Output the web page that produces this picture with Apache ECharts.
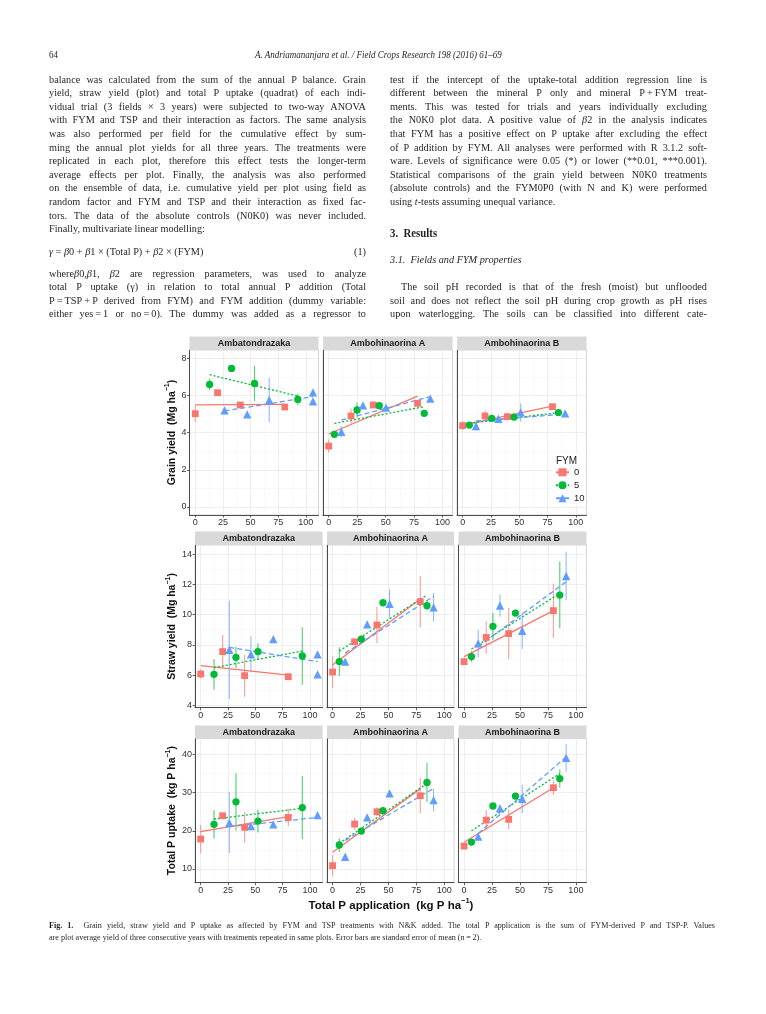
<!DOCTYPE html>
<html><head><meta charset="utf-8">
<script src="https://cdn.jsdelivr.net/npm/echarts@6/dist/echarts.min.js"></script>
<style>
html,body{margin:0;padding:0;background:#fff;}
#page{position:relative;width:766px;height:1014px;overflow:hidden;background:#fff;}
#chart{position:absolute;left:0;top:0;width:766px;height:1014px;}
.t{position:absolute;white-space:nowrap;font-family:'Liberation Serif','Times New Roman',serif;color:#231f20;line-height:13px;transform-origin:0 0;}
</style></head>
<body><div id="page"><div id="chart"></div><div id="text"></div></div>
<script>
// ---------------- DATA ----------------
const fields = ['Ambatondrazaka', 'Ambohinaorina A', 'Ambohinaorina B'];
const fymLevels = ['0', '5', '10'];
const xTicks = [0, 25, 50, 75, 100];
const xMinorTicks = [12.5, 37.5, 62.5, 87.5];
const grainTicks = [0, 2, 4, 6, 8];
const grainMinorTicks = [1, 3, 5, 7];
const strawTicks = [4, 6, 8, 10, 12, 14];
const strawMinorTicks = [5, 7, 9, 11, 13];
const uptakeTicks = [10, 20, 30, 40];
const uptakeMinorTicks = [15, 25, 35];

// points: [fieldIndex, total P application, mean, standard error]
const grainFYM0 = [
  [0, 0, 5.02, 0.45], [0, 20.2, 6.15, 0.1], [0, 40.7, 5.49, 0.1], [0, 81, 5.38, 0.15],
  [1, 0, 3.28, 0.35], [1, 19.6, 4.9, 0.4], [1, 39.2, 5.49, 0.05], [1, 78, 5.58, 0.15],
  [2, 0, 4.38, 0.25], [2, 19.8, 4.9, 0.3], [2, 39.5, 4.86, 0.1], [2, 79.4, 5.4, 0.1]
];
const grainFYM5 = [
  [0, 13, 6.6, 0.3], [0, 32.8, 7.46, 0.05], [0, 53.6, 6.65, 0.95], [0, 92.8, 5.79, 0.3],
  [1, 5, 3.91, 0.1], [1, 24.9, 5.22, 0.4], [1, 44.4, 5.45, 0.05], [1, 83.9, 5.04, 0.1],
  [2, 5.9, 4.41, 0.1], [2, 25.7, 4.77, 0.1], [2, 45.4, 4.84, 0.1], [2, 84.7, 5.08, 0.05]
];
const grainFYM10 = [
  [0, 26.5, 5.2, 0.05], [0, 47, 4.99, 0.05], [0, 66.9, 5.76, 1.2], [0, 106.5, 6.17, 0.05], [0, 106.5, 5.69, 0.05],
  [1, 11.1, 4.05, 0.3], [1, 30.1, 5.47, 0.1], [1, 50.3, 5.35, 0.1], [1, 89.2, 5.83, 0.1],
  [2, 11.8, 4.36, 0.25], [2, 31.6, 4.75, 0.1], [2, 51.3, 5.09, 0.5], [2, 90.6, 5.04, 0.05]
];
const strawFYM0 = [
  [0, 0, 6.07, 0.3], [0, 20.1, 7.55, 1.1], [0, 40.2, 5.96, 1.4], [0, 80.2, 5.89, 0.2],
  [1, 0, 6.2, 1.05], [1, 19.7, 8.2, 0.1], [1, 39.7, 9.31, 1.2], [1, 78.5, 10.85, 1.7],
  [2, 0, 6.89, 0.1], [2, 19.8, 8.49, 1.07], [2, 39.9, 8.74, 1.7], [2, 79.9, 10.26, 1.8]
];
const strawFYM5 = [
  [0, 12.2, 6.05, 1.0], [0, 32.3, 7.17, 0.7], [0, 52.4, 7.55, 0.55], [0, 93, 7.26, 1.9],
  [1, 6, 6.89, 0.95], [1, 25.7, 8.38, 0.1], [1, 45.1, 10.78, 0.05], [1, 84.5, 10.59, 0.3],
  [2, 6.6, 7.22, 0.35], [2, 25.8, 9.22, 0.9], [2, 45.9, 10.1, 0.05], [2, 85.6, 11.29, 2.2]
];
const strawFYM10 = [
  [0, 26.2, 7.66, 3.25], [0, 46, 7.37, 1.2], [0, 66.5, 8.38, 0.05], [0, 107, 7.37, 0.05], [0, 107, 6.05, 0.05],
  [1, 11.3, 6.89, 0.05], [1, 31, 9.35, 0.05], [1, 51, 10.7, 0.95], [1, 90.4, 10.48, 0.95],
  [2, 12.6, 8.1, 0.9], [2, 32.1, 10.59, 0.73], [2, 52, 8.93, 1.2], [2, 91.3, 12.55, 1.6]
];
const uptakeFYM0 = [
  [0, 0, 17.85, 3.75], [0, 20.1, 23.95, 0.7], [0, 40.2, 20.9, 4], [0, 80.2, 23.5, 2.3],
  [1, 0, 10.87, 2.8], [1, 19.7, 21.77, 1.5], [1, 39.7, 25, 1.2], [1, 78.5, 29.2, 4.6],
  [2, 0, 16, 0.5], [2, 19.8, 22.8, 2.6], [2, 39.9, 23, 2.6], [2, 79.9, 31.3, 1.9]
];
const uptakeFYM5 = [
  [0, 12.2, 21.7, 3.7], [0, 32.3, 27.6, 7.5], [0, 52.4, 22.55, 3], [0, 93, 26.1, 8.3],
  [1, 6, 16.28, 1.8], [1, 25.7, 19.94, 0.3], [1, 45.1, 25.26, 0.3], [1, 84.5, 32.67, 5.2],
  [2, 6.6, 17.06, 0.3], [2, 25.8, 26.5, 0.3], [2, 45.9, 29.1, 0.3], [2, 85.6, 33.7, 2.4]
];
const uptakeFYM10 = [
  [0, 26.2, 22.1, 8], [0, 46, 21.25, 0.3], [0, 66.5, 21.7, 0.3], [0, 107, 24.1, 0.3],
  [1, 11.3, 13.2, 0.3], [1, 31, 23.5, 0.3], [1, 51, 29.8, 0.3], [1, 90.4, 28.05, 2.9],
  [2, 12.6, 18.46, 0.3], [2, 32.1, 25.9, 0.3], [2, 52, 28.4, 3.7], [2, 91.3, 39.1, 3.6]
];

// regression lines: [fieldIndex, x start, y start, x end, y end]
const grainFitFYM0 = [[0, 0, 5.5, 81, 5.52], [1, 0, 3.93, 78, 5.97], [2, 0, 4.41, 79.4, 5.43]];
const grainFitFYM5 = [[0, 13, 7.12, 92.8, 5.97], [1, 5, 4.5, 83.9, 5.4], [2, 5.9, 4.5, 84.7, 5.08]];
const grainFitFYM10 = [[0, 26.5, 5.17, 106.5, 5.94], [1, 11.1, 4.68, 89.2, 5.94], [2, 11.8, 4.63, 90.6, 5.0]];
const strawFitFYM0 = [[0, 0, 6.62, 80.2, 6.0], [1, 0, 6.67, 78.5, 11.03], [2, 0, 7.22, 79.9, 10.26]];
const strawFitFYM5 = [[0, 12.2, 6.49, 93, 7.59], [1, 6, 7.59, 84.5, 11.29], [2, 6.6, 7.72, 85.6, 11.4]];
const strawFitFYM10 = [[0, 26.2, 7.83, 107, 6.89], [1, 11.3, 7.45, 90.4, 11.2], [2, 12.6, 7.88, 91.3, 12.17]];
const uptakeFitFYM0 = [[0, 0, 19.76, 80.2, 23.7], [1, 0, 14.4, 78.5, 31.0], [2, 0, 17, 79.9, 31.3]];
const uptakeFitFYM5 = [[0, 12.2, 23.1, 93, 25.9], [1, 6, 16.7, 84.5, 32.4], [2, 6.6, 20, 85.6, 35]];
const uptakeFitFYM10 = [[0, 26.2, 21.07, 107, 23.5], [1, 11.3, 17.5, 90.4, 31.1], [2, 12.6, 19.3, 91.3, 39.4]];

// ---------------- LAYOUT / STYLE ----------------
const FONT = '"Liberation Sans", Arial, sans-serif';
const COLORS = ['#F8766D', '#00BA38', '#619CFF'];
const SYMBOLS = ['rect', 'circle', 'triangle'];
const SYMSIZE = [6.8, 7.3, 8.3];
const DASHES = ['solid', [2, 2], [5, 3]];

const rowsMeta = [
  { pts: [grainFYM0, grainFYM5, grainFYM10], fits: [grainFitFYM0, grainFitFYM5, grainFitFYM10],
    ticks: grainTicks, minor: grainMinorTicks, yRange: [-0.43, 8.45], title: 'Grain yield  (Mg ha',
    top: 350, height: 165, lefts: [189.5, 323, 457], widths: [129, 129.5, 129.5], stripH: 13.5, nameGap: 12 },
  { pts: [strawFYM0, strawFYM5, strawFYM10], fits: [strawFitFYM0, strawFitFYM5, strawFitFYM10],
    ticks: strawTicks, minor: strawMinorTicks, yRange: [3.84, 14.6], title: 'Straw yield  (Mg ha',
    top: 545, height: 162.7, lefts: [195, 327, 458.5], widths: [127.5, 127, 128], stripH: 13.5, nameGap: 15.5 },
  { pts: [uptakeFYM0, uptakeFYM5, uptakeFYM10], fits: [uptakeFitFYM0, uptakeFitFYM5, uptakeFitFYM10],
    ticks: uptakeTicks, minor: uptakeMinorTicks, yRange: [6.4, 44.2], title: 'Total P uptake  (kg P ha',
    top: 738.5, height: 144.2, lefts: [195, 327, 458.5], widths: [127.5, 127, 128], stripH: 13, nameGap: 15.5 }
];
const xRanges = [[-5.2, 111.5], [-5, 108.7], [-5, 109.5]];

const grids = [], xAxes = [], yAxes = [], graphics = [];
const fitSeries = [], errSeries = [], ptSeries = [];
const N = 9;

rowsMeta.forEach((row, r) => {
  for (let c = 0; c < 3; c++) {
    grids.push({ left: row.lefts[c], top: row.top, width: row.widths[c], height: row.height,
      show: true, borderColor: '#c4c4c4', borderWidth: 0.7, backgroundColor: 'transparent',
      containLabel: false, outerBoundsMode: 'none' });
  }
});
rowsMeta.forEach((row, r) => {
  for (let c = 0; c < 3; c++) {
    const g = r * 3 + c;
    xAxes[g] = { type: 'value', gridIndex: g, min: xRanges[c][0], max: xRanges[c][1], position: 'bottom',
      axisLine: { show: true, onZero: false, lineStyle: { color: '#3a3a3a', width: 0.9 } },
      axisTick: { show: true, customValues: xTicks, length: 2.5, lineStyle: { color: '#3a3a3a', width: 0.8 } },
      axisLabel: { show: true, customValues: xTicks, color: '#333', fontSize: 9, fontFamily: FONT, margin: 3 },
      splitLine: { show: true, lineStyle: { color: '#e6e6e6', width: 0.7 } } };
    xAxes[N + g] = { type: 'value', gridIndex: g, min: xRanges[c][0], max: xRanges[c][1], position: 'top',
      axisLine: { show: false, onZero: false }, axisTick: { show: false, customValues: xMinorTicks },
      axisLabel: { show: false, customValues: xMinorTicks },
      splitLine: { show: true, lineStyle: { color: '#f2f2f2', width: 0.5 } } };
    const yMain = { type: 'value', gridIndex: g, min: row.yRange[0], max: row.yRange[1], position: 'left',
      axisLine: { show: true, onZero: false, lineStyle: { color: '#3a3a3a', width: 0.9 } },
      axisTick: { show: c === 0, customValues: row.ticks, length: 2.5, lineStyle: { color: '#3a3a3a', width: 0.8 } },
      axisLabel: { show: c === 0, customValues: row.ticks, color: '#333', fontSize: 9, fontFamily: FONT, margin: 3 },
      splitLine: { show: true, lineStyle: { color: '#e6e6e6', width: 0.7 } } };
    if (c === 0) {
      yMain.name = '{t|' + row.title + '}{s|\u22121}{t|)}';
      yMain.nameLocation = 'middle';
      yMain.nameRotate = 90;
      yMain.nameGap = row.nameGap;
      yMain.nameTextStyle = { rich: {
        t: { fontSize: 10.5, fontWeight: 'bold', fontFamily: FONT, color: '#111', lineHeight: 14, verticalAlign: 'bottom' },
        s: { fontSize: 7, fontWeight: 'bold', fontFamily: FONT, color: '#111', lineHeight: 8, verticalAlign: 'top' } } };
    }
    yAxes[g] = yMain;
    yAxes[N + g] = { type: 'value', gridIndex: g, min: row.yRange[0], max: row.yRange[1], position: 'right',
      axisLine: { show: false, onZero: false }, axisTick: { show: false, customValues: row.minor },
      axisLabel: { show: false, customValues: row.minor },
      splitLine: { show: true, lineStyle: { color: '#f2f2f2', width: 0.5 } } };

    // facet strip
    graphics.push({ type: 'rect', silent: true, z: 1,
      shape: { x: row.lefts[c], y: row.top - row.stripH, width: row.widths[c], height: row.stripH },
      style: { fill: '#d9d9d9' } });
    graphics.push({ type: 'text', silent: true, z: 2,
      x: row.lefts[c] + row.widths[c] / 2, y: row.top - row.stripH / 2 + 0.5,
      style: { text: fields[c], font: 'bold 9px ' + FONT, fill: '#1a1a1a', align: 'center', verticalAlign: 'middle' } });

    for (let k = 0; k < 3; k++) {
      const fit = row.fits[k].filter(d => d[0] === c);
      fitSeries.push({ type: 'line', name: fymLevels[k], xAxisIndex: g, yAxisIndex: g,
        data: fit.map(d => [[d[1], d[2]], [d[3], d[4]]]).flat(),
        showSymbol: false, symbol: SYMBOLS[k], symbolSize: SYMSIZE[k], silent: true, z: 3,
        lineStyle: { color: COLORS[k], width: 1.3, type: DASHES[k] }, itemStyle: { color: COLORS[k] } });
      const pts = row.pts[k].filter(d => d[0] === c);
      errSeries.push({ type: 'custom', name: 'se' + k, xAxisIndex: g, yAxisIndex: g, z: 2, silent: true,
        data: pts.map(d => [d[1], d[2], d[3]]), encode: { x: 0, y: 1 },
        renderItem: (params, api) => {
          const x = api.value(0), y = api.value(1), e = api.value(2);
          const p1 = api.coord([x, y - e]), p2 = api.coord([x, y + e]);
          return { type: 'line', shape: { x1: p1[0], y1: p1[1], x2: p2[0], y2: p2[1] },
            style: { stroke: COLORS[k], lineWidth: 1.1, opacity: 0.7 } };
        } });
      ptSeries.push({ type: 'scatter', name: fymLevels[k], xAxisIndex: g, yAxisIndex: g, z: 4,
        data: pts.map(d => [d[1], d[2]]), symbol: SYMBOLS[k], symbolSize: SYMSIZE[k],
        itemStyle: { color: COLORS[k], opacity: 1 } });
    }
  }
});

// x-axis title
graphics.push({ type: 'text', silent: true, z: 5, x: 391, y: 904,
  style: { text: '{t|Total P application  (kg P ha}{s|\u22121}{t|)}', align: 'center', verticalAlign: 'middle',
    rich: { t: { fontSize: 11.5, fontWeight: 'bold', fontFamily: FONT, fill: '#111', lineHeight: 15, verticalAlign: 'bottom' },
            s: { fontSize: 7.5, fontWeight: 'bold', fontFamily: FONT, fill: '#111', lineHeight: 8, verticalAlign: 'top' } } } });
// legend box and title
graphics.push({ type: 'rect', silent: true, z: 5, shape: { x: 552, y: 453, width: 33, height: 52 }, style: { fill: '#fff' } });
graphics.push({ type: 'text', silent: true, z: 6, x: 556, y: 461,
  style: { text: 'FYM', font: '10px ' + FONT, fill: '#222', align: 'left', verticalAlign: 'middle' } });

const chart = echarts.init(document.getElementById('chart'), null, { renderer: 'canvas' });
chart.setOption({
  animation: false,
  backgroundColor: '#fff',
  grid: grids,
  xAxis: xAxes,
  yAxis: yAxes,
  legend: { data: fymLevels, orient: 'vertical', left: 553, top: 465.3, itemWidth: 13, itemHeight: 10, itemGap: 3,
    padding: 2, selectedMode: false, z: 7,
    textStyle: { fontSize: 9.5, color: '#222', fontFamily: FONT } },
  graphic: graphics,
  series: [...fitSeries, ...errSeries, ...ptSeries]
});

// ---------------- PAGE TEXT ----------------
const box = document.getElementById('text');
const F = 0.9; // horizontal condensing of the serif face
function addLine(html, x, yc, size, width, opts) {
  opts = opts || {};
  const f = opts.f || F;
  const d = document.createElement('div');
  d.className = 't';
  d.innerHTML = html;
  d.style.fontSize = size + 'px';
  d.style.left = x + 'px';
  d.style.top = (yc - 6.5) + 'px';
  if (opts.weight) d.style.fontWeight = opts.weight;
  if (opts.italic) d.style.fontStyle = 'italic';
  box.appendChild(d);
  const w = d.getBoundingClientRect().width;
  let scale = f;
  if (width) {
    const target = width / f;
    const spaces = (d.textContent.match(/ /g) || []).length;
    if (w < target && spaces) d.style.wordSpacing = ((target - w) / spaces) + 'px';
    else scale = width / w;
  }
  d.style.transform = 'scaleX(' + scale + ')';
  const sw = (width ? width : w * scale);
  if (opts.center) d.style.left = (x - sw / 2) + 'px';
  if (opts.right) d.style.left = (x - sw) + 'px';
}
const LX = 49, RX = 390, CW = 317, LS = 13.6, Y0 = 79, BS = 11.4;
addLine('64', LX, 54, 10, 0);
addLine('A. Andriamananjara et al. / Field Crops Research 198 (2016) 61\u201369', 378, 54, 10, 0, { italic: true, center: true });

const leftA = [
  'balance was calculated from the sum of the annual P balance. Grain',
  'yield, straw yield (plot) and total P uptake (quadrat) of each indi-',
  'vidual trial (3 fields \u00d7 3 years) were subjected to two-way ANOVA',
  'with FYM and TSP and their interaction as factors. The same analysis',
  'was also performed per field for the cumulative effect by sum-',
  'ming the annual plot yields for all three years. The treatments were',
  'replicated in each plot, therefore this effect tests the longer-term',
  'average effects per plot. Finally, the analysis was also performed',
  'on the ensemble of data, i.e. cumulative yield per plot using field as',
  'random factor and FYM and TSP and their interaction as fixed fac-',
  'tors. The data of the absolute controls (N0K0) was never included.',
  'Finally, multivariate linear modelling:'
];
leftA.forEach((s, i) => addLine(s, LX, Y0 + i * LS, BS, i < leftA.length - 1 ? CW : 0));
addLine('<i>\u03b3</i> = <i>\u03b2</i>0 + <i>\u03b2</i>1 \u00d7 (Total P) + <i>\u03b2</i>2 \u00d7 (FYM)', LX, 251, BS, 0);
addLine('(1)', LX + CW, 251, BS, 0, { right: true });
const leftB = [
  'where<i>\u03b2</i>0,<i>\u03b2</i>1, <i>\u03b2</i>2 are regression parameters, was used to analyze',
  'total P uptake (\u03b3) in relation to total annual P addition (Total',
  'P\u2009=\u2009TSP\u2009+\u2009P derived from FYM) and FYM addition (dummy variable:',
  'either yes\u2009=\u20091 or no\u2009=\u20090). The dummy was added as a regressor to'
];
leftB.forEach((s, i) => addLine(s, LX, 273 + i * LS, BS, CW));

const rightA = [
  'test if the intercept of the uptake-total addition regression line is',
  'different between the mineral P only and mineral P\u2009+\u2009FYM treat-',
  'ments. This was tested for trials and years individually excluding',
  'the N0K0 plot data. A positive value of <i>\u03b2</i>2 in the analysis indicates',
  'that FYM has a positive effect on P uptake after excluding the effect',
  'of P addition by FYM. All analyses were performed with R 3.1.2 soft-',
  'ware. Levels of significance were 0.05 (*) or lower (**0.01, ***0.001).',
  'Statistical comparisons of the grain yield between N0K0 treatments',
  '(absolute controls) and the FYM0P0 (with N and K) were performed',
  'using <i>t</i>-tests assuming unequal variance.'
];
rightA.forEach((s, i) => addLine(s, RX, Y0 + i * LS, BS, i < rightA.length - 1 ? CW : 0));
addLine('3.&nbsp; Results', RX, 233, 12, 0, { weight: 'bold' });
addLine('3.1.&nbsp; Fields and FYM properties', RX, 259.8, BS, 0, { italic: true });
const rightB = [
  'soil and does not reflect the soil pH during crop growth as pH rises',
  'upon waterlogging. The soils can be classified into different cate-'
];
addLine('The soil pH recorded is that of the fresh (moist) but unflooded', RX + 11, 273 + LS, BS, CW - 11);
rightB.forEach((s, i) => addLine(s, RX, 273 + (i + 2) * LS, BS, CW));

addLine('<b>Fig. 1.</b>&nbsp; Grain yield, straw yield and P uptake as affected by FYM and TSP treatments with N&amp;K added. The total P application is the sum of FYM-derived P and TSP-P. Values', LX, 925, 9, 663);
addLine('are plot average yield of three consecutive years with treatments repeated in same plots. Error bars are standard error of mean (n\u2009=\u20092).', LX, 937, 9, 0);
</script>
</body></html>
